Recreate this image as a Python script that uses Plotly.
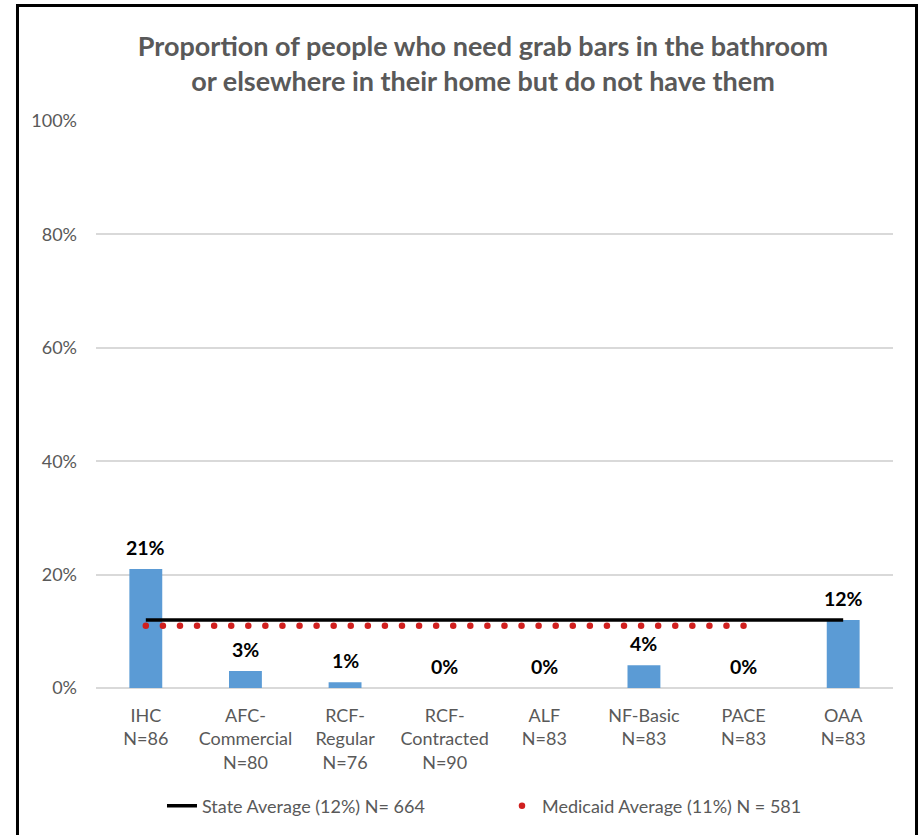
import numpy as np
import plotly.graph_objects as go

# Program categories with their sample sizes
categories = ["IHC<br>N=86", "AFC-<br>Commercial<br>N=80", "RCF-<br>Regular<br>N=76",
              "RCF-<br>Contracted<br>N=90", "ALF<br>N=83", "NF-Basic<br>N=83",
              "PACE<br>N=83", "OAA<br>N=83"]
# Percent needing grab bars but lacking them
values = [21, 3, 1, 0, 0, 4, 0, 12]
bar_labels = ["21%", "3%", "1%", "0%", "0%", "4%", "0%", "12%"]

state_avg = 12          # State Average (12%) N= 664
medicaid_avg = 11       # Medicaid Average (11%) N = 581
medicaid_last = "PACE"  # Medicaid average spans IHC through PACE

y_ticks = [0, 20, 40, 60, 80, 100]
y_tick_labels = ["0%", "20%", "40%", "60%", "80%", "100%"]

FONT = "Lato"
GRAY = "#595959"
BLUE = "#5B9BD5"
RED = "#D0201F"

idx = list(range(len(categories)))
med_end = [c.split("<br>")[0] for c in categories].index(medicaid_last)

fig = go.Figure()

fig.add_trace(go.Bar(
    x=idx, y=values, width=0.33,
    marker=dict(color=BLUE, line=dict(width=0)),
    showlegend=False, hoverinfo="skip",
))

fig.add_trace(go.Scatter(
    x=[idx[0], idx[-1]], y=[state_avg, state_avg], mode="lines",
    line=dict(color="#000000", width=3.5),
    name="State Average (12%) N= 664",
))

# Round dots spaced evenly along the Medicaid average span
dot_x = np.linspace(idx[0], idx[med_end], 36)
fig.add_trace(go.Scatter(
    x=dot_x, y=[medicaid_avg] * len(dot_x), mode="markers",
    marker=dict(color=RED, size=6.5, line=dict(width=0)),
    name="Medicaid Average (11%) N = 581",
))

# Value labels sitting above each bar
for xi, v, lab in zip(idx, values, bar_labels):
    fig.add_annotation(
        x=xi, y=v, xref="x", yref="y", text=lab, showarrow=False,
        yanchor="bottom", yshift=8,
        font=dict(family=FONT, size=19.5, color="#000000", weight=700),
    )

fig.update_layout(
    width=920, height=835,
    margin=dict(l=96, r=27, t=121, b=147, autoexpand=False),
    paper_bgcolor="white", plot_bgcolor="white",
    title=dict(
        text="Proportion of people who need grab bars in the bathroom<br>"
             "or elsewhere in their home but do not have them",
        x=0.525, xanchor="center", xref="container",
        y=0.933, yanchor="middle", yref="container",
        font=dict(family=FONT, size=27, color=GRAY, weight=700),
    ),
    xaxis=dict(
        range=[-0.5, 7.5], tickvals=idx, ticktext=categories,
        showgrid=False, zeroline=False, showline=False,
        ticks="", ticklabelstandoff=15,
        tickfont=dict(family=FONT, size=18, color=GRAY),
    ),
    yaxis=dict(
        range=[0, 100], tickvals=y_ticks, ticktext=y_tick_labels,
        showgrid=True, gridcolor="#D9D9D9", gridwidth=1.5,
        zeroline=True, zerolinecolor="#D9D9D9", zerolinewidth=1.5,
        showline=False, ticks="", ticklabelstandoff=18,
        tickfont=dict(family=FONT, size=18, color=GRAY),
    ),
    legend=dict(
        orientation="h", x=0.0828, xanchor="left", y=-0.208, yanchor="middle",
        font=dict(family=FONT, size=18, color=GRAY),
        entrywidth=295, tracegroupgap=0, bgcolor="rgba(0,0,0,0)",
    ),
    shapes=[dict(
        type="rect", xref="paper", yref="paper",
        x0=-0.0985, x1=1.0295, y0=-0.4, y1=1.2037,
        line=dict(color="#000000", width=3), fillcolor="rgba(0,0,0,0)",
        layer="above",
    )],
)

fig.write_html("out.html")
